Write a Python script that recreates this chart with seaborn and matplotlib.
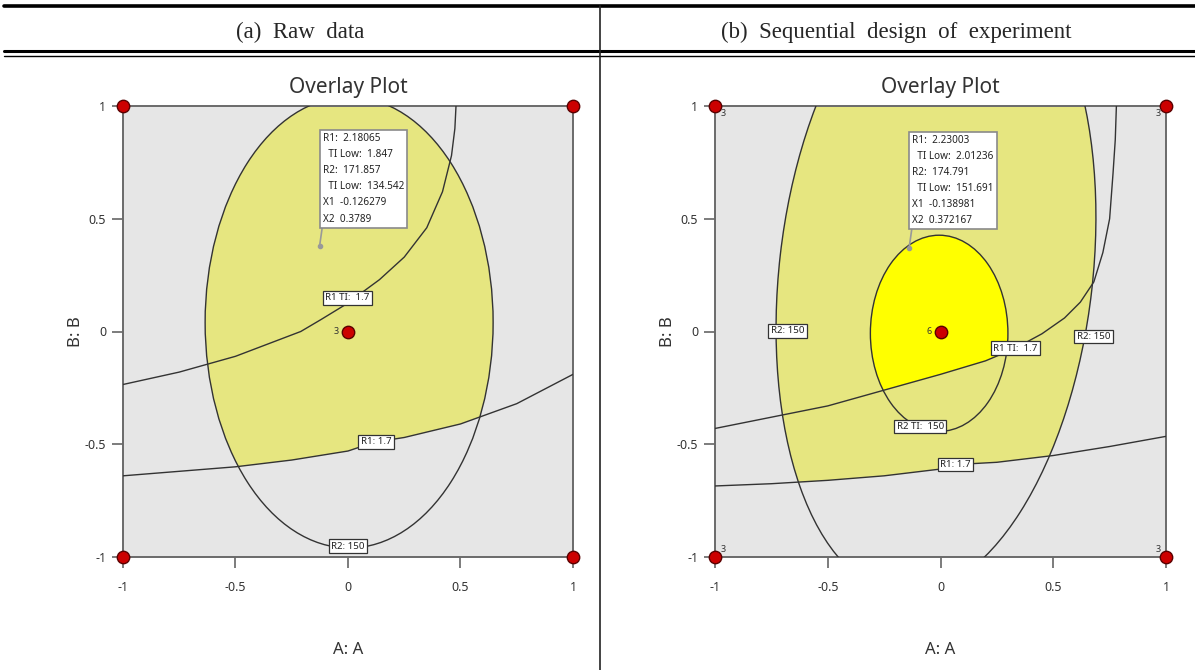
import matplotlib
matplotlib.use("Agg")
import matplotlib.pyplot as plt
from matplotlib.patches import Ellipse, Polygon
from matplotlib.lines import Line2D
import pandas as pd
import seaborn as sns

sns.set_theme(style="white")
plt.rcParams['font.family'] = ['Noto Sans', 'DejaVu Sans']

# ---- data ----
panel_titles = ["(a)  Raw  data", "(b)  Sequential  design  of  experiment"]

design_a = [-1, 1, -1, 1, 0]
design_b = [-1, -1, 1, 1, 0]
raw_reps = ["", "", "", "", "3"]
seq_reps = ["3", "3", "3", "3", "6"]

# (a) raw data contours
raw_r1_x = [-1.0, -0.75, -0.5, -0.25, 0.0, 0.12, 0.25, 0.5, 0.75, 1.0]
raw_r1_y = [-0.64, -0.62, -0.60, -0.57, -0.53, -0.49, -0.47, -0.41, -0.32, -0.19]
raw_r1ti_x = [-1.0, -0.75, -0.5, -0.21, -0.12, -0.01, 0.14, 0.25, 0.35, 0.42, 0.46, 0.475, 0.48]
raw_r1ti_y = [-0.235, -0.18, -0.11, 0.0, 0.053, 0.12, 0.23, 0.33, 0.46, 0.62, 0.78, 0.9, 1.0]
raw_r2_ellipse = [0.005, 0.04, 1.28, 2.0, 0.0]   # cx, cy, width, height, angle

# (b) sequential design contours
seq_r1_x = [-1.0, -0.75, -0.5, -0.25, 0.0, 0.07, 0.25, 0.5, 0.75, 1.0]
seq_r1_y = [-0.685, -0.675, -0.66, -0.64, -0.61, -0.59, -0.58, -0.55, -0.51, -0.465]
seq_r1ti_x = [-1.0, -0.75, -0.5, -0.25, 0.0, 0.2, 0.33, 0.45, 0.55, 0.62, 0.68, 0.72, 0.75, 0.765, 0.775, 0.78]
seq_r1ti_y = [-0.43, -0.38, -0.33, -0.26, -0.19, -0.13, -0.075, -0.01, 0.06, 0.13, 0.22, 0.35, 0.5, 0.7, 0.85, 1.0]
seq_r2_ellipse = [-0.02, 0.26, 1.39, 2.86, -6.5]
seq_r2ti_ellipse = [-0.006, -0.008, 0.61, 0.87, 0.0]

# flag boxes
raw_flag = ["R1:  2.18065", "  TI Low:  1.847", "R2:  171.857", "  TI Low:  134.542",
            "X1  -0.126279", "X2  0.3789"]
raw_flag_xy = [-0.126279, 0.3789]
seq_flag = ["R1:  2.23003", "  TI Low:  2.01236", "R2:  174.791", "  TI Low:  151.691",
            "X1  -0.138981", "X2  0.372167"]
seq_flag_xy = [-0.138981, 0.372167]

# contour labels
raw_labels = [("R1 TI:  1.7", -0.004, 0.15), ("R1: 1.7", 0.124, -0.49), ("R2: 150", 0.0, -0.953)]
seq_labels = [("R2: 150", -0.678, 0.004), ("R2: 150", 0.678, -0.022), ("R1 TI:  1.7", 0.333, -0.075),
              ("R2 TI:  150", -0.089, -0.421), ("R1: 1.7", 0.067, -0.59)]

GRAY_BG = "#e6e6e6"
PALE = "#e6e680"
BRIGHT = "#ffff00"
LINE = "#333333"


def above(ax, xs, ys):
    pts = list(zip(xs, ys)) + [(xs[-1], 3), (xs[0] - 0.5, 3), (xs[0] - 0.5, ys[0])]
    return Polygon(pts, closed=True, transform=ax.transData)


def filled_ellipse(ax, params, color, xs, ys, z):
    cx, cy, w, h, ang = params
    e = Ellipse((cx, cy), w, h, angle=ang, facecolor=color, edgecolor="none", zorder=z)
    ax.add_patch(e)
    e.set_clip_path(above(ax, xs, ys))
    outline = Ellipse((cx, cy), w, h, angle=ang, facecolor="none", edgecolor=LINE, lw=1.0, zorder=3)
    ax.add_patch(outline)


def curve(ax, xs, ys):
    df = pd.DataFrame({"x": xs, "y": ys})
    sns.lineplot(data=df, x="x", y="y", sort=False, estimator=None, color=LINE, lw=1.0, ax=ax, zorder=3)


def setup(ax):
    ax.set_facecolor(GRAY_BG)
    ax.set_xlim(-1, 1)
    ax.set_ylim(-1, 1)
    ticks = [-1, -0.5, 0, 0.5, 1]
    labels = ["-1", "-0.5", "0", "0.5", "1"]
    ax.set_xticks(ticks, labels)
    ax.set_yticks(ticks, labels)
    ax.tick_params(axis="both", direction="out", length=8, width=1.2, color="#666666",
                   labelsize=9, labelcolor="#333333", bottom=True, left=True)
    ax.tick_params(axis="x", pad=9)
    ax.tick_params(axis="y", pad=4)
    for s in ax.spines.values():
        s.set_color("#6a6a6a")
        s.set_linewidth(1.4)
    ax.set_xlabel("A: A", fontsize=12, color="#333333")
    ax.set_ylabel("B: B", fontsize=12, color="#333333")
    ax.xaxis.set_label_coords(0.5, -0.189)
    ax.yaxis.set_label_coords(-0.087, 0.5)
    ax.text(0.5, 1.04, "Overlay Plot", transform=ax.transAxes, ha="center", va="center",
            fontsize=15, color="#333333")


def flag(ax, lines, xy):
    ax.plot([xy[0]], [xy[1]], marker="o", ms=3, color="#999999", zorder=6)
    ax.annotate("\n".join(lines), xy=(xy[0], xy[1]), xytext=(2.2, 15.5), textcoords="offset points",
                ha="left", va="bottom", fontsize=7.2, color="#222222", linespacing=1.63,
                bbox=dict(boxstyle="square,pad=0.3", fc="white", ec="#8a8a8a", lw=1.2),
                arrowprops=dict(arrowstyle="-", color="#999999", lw=1.2, shrinkA=0, shrinkB=0,
                                relpos=(0, 0)),
                zorder=7)


def contour_labels(ax, labels):
    for s, x, y in labels:
        ax.text(x, y, s, ha="center", va="center", fontsize=7, color="#222222", zorder=5,
                bbox=dict(boxstyle="square,pad=0.25", fc="white", ec="#333333", lw=0.9))


def points(ax, reps, corner_labels):
    df = pd.DataFrame({"a": design_a, "b": design_b})
    sns.scatterplot(data=df, x="a", y="b", s=80, color="#cc0000", edgecolor="#5a0000",
                    linewidth=1.0, ax=ax, zorder=8, clip_on=False)
    for a, b, r in zip(design_a, design_b, reps):
        if not r:
            continue
        if a == 0:
            ax.text(a - 0.04, b, r, ha="right", va="center", fontsize=6.5, color="#333333", zorder=8)
        elif corner_labels:
            dx = 0.025 if a < 0 else -0.025
            dy = -0.035 if b > 0 else 0.035
            ax.text(a + dx, b + dy, r, ha="left" if a < 0 else "right", va="center",
                    fontsize=6.5, color="#333333", zorder=8)


fig = plt.figure(figsize=(11.95, 6.7), dpi=100)
ax1 = fig.add_axes([123 / 1195, 113 / 670, 450 / 1195, 451 / 670])
ax2 = fig.add_axes([715 / 1195, 113 / 670, 451 / 1195, 451 / 670])

# panel (a)
setup(ax1)
filled_ellipse(ax1, raw_r2_ellipse, PALE, raw_r1_x, raw_r1_y, 1)
curve(ax1, raw_r1_x, raw_r1_y)
curve(ax1, raw_r1ti_x, raw_r1ti_y)
contour_labels(ax1, raw_labels)
flag(ax1, raw_flag, raw_flag_xy)
points(ax1, raw_reps, False)

# panel (b)
setup(ax2)
filled_ellipse(ax2, seq_r2_ellipse, PALE, seq_r1_x, seq_r1_y, 1)
filled_ellipse(ax2, seq_r2ti_ellipse, BRIGHT, seq_r1ti_x, seq_r1ti_y, 2)
curve(ax2, seq_r1_x, seq_r1_y)
curve(ax2, seq_r1ti_x, seq_r1ti_y)
contour_labels(ax2, seq_labels)
flag(ax2, seq_flag, seq_flag_xy)
points(ax2, seq_reps, True)

# table frame around the two panels
for y, lw in [(1 - 6 / 670, 2.6), (1 - 51 / 670, 2.2), (1 - 56 / 670, 1.0)]:
    fig.add_artist(Line2D([0.003, 1], [y, y], color="black", lw=lw, transform=fig.transFigure))
fig.add_artist(Line2D([600 / 1195, 600 / 1195], [0, 1 - 6 / 670], color="#222222", lw=1.2,
                      transform=fig.transFigure))
fig.text(300 / 1195, 1 - 32 / 670, panel_titles[0], ha="center", va="center", fontsize=16.5,
         family="Liberation Serif")
fig.text(896 / 1195, 1 - 32 / 670, panel_titles[1], ha="center", va="center", fontsize=16.5,
         family="Liberation Serif")

fig.savefig("out.png", dpi=100)
